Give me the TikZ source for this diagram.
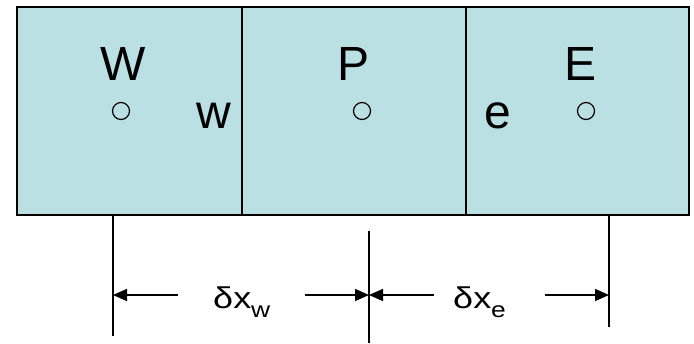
\documentclass[tikz,border=0pt]{standalone}
\usepackage{fontspec}
\usepackage{graphicx}
\setmainfont{Liberation Sans}
\usetikzlibrary{arrows.meta}
\definecolor{cellfill}{HTML}{BBE0E3}
\tikzset{
  cell/.style={draw=black, line width=1.7pt, fill=cellfill, rectangle, inner sep=0pt, minimum height=208pt},
  node/.style={circle, draw=black, line width=1.2pt, minimum size=17pt, inner sep=0pt},
  biglabel/.style={inner sep=0pt, anchor=base, font=\fontsize{48}{48}\selectfont},
  dimline/.style={line width=1.6pt},
  dimarrow/.style={line width=1.6pt, -{Triangle[length=14pt,width=12pt]}},
  dimlabel/.style={inner sep=0pt, anchor=base west, font=\fontsize{30}{30}\selectfont}
}
\begin{document}
\begin{tikzpicture}[x=1pt,y=-1pt]
\useasboundingbox (0,0) rectangle (694,343);
% cells
\node[cell, minimum width=225pt] (cw) at (129.5,111) {};
\node[cell, minimum width=224pt] (cp) at (354,111) {};
\node[cell, minimum width=223pt] (ce) at (577.5,111) {};
% labels
\node[biglabel] (lW) at (123,80) {W};
\node[biglabel] (lP) at (354,80) {P};
\node[biglabel] (lE) at (581,80) {E};
\node[biglabel] (lw) at (214,128) {w};
\node[biglabel] (le) at (498,128) {e};
% node circles
\node[node] (nW) at (121,111) {};
\node[node] (nP) at (362,111) {};
\node[node] (nE) at (586,111) {};
% extension lines
\coordinate (wt) at (113,215);
\coordinate (wb) at (113,336);
\coordinate (pt) at (369,231);
\coordinate (pb) at (369,343);
\coordinate (et) at (609,215);
\coordinate (eb) at (609,327);
\draw[dimline] (wt) -- (wb);
\draw[dimline] (pt) -- (pb);
\draw[dimline] (et) -- (eb);
% dimension arrows
\coordinate (tw) at (113,295);
\coordinate (tp) at (369,295);
\coordinate (te) at (609,295);
\coordinate (a1) at (178,295);
\coordinate (a2) at (305,295);
\coordinate (a3) at (434,295);
\coordinate (a4) at (545,295);
\draw[dimarrow] (a1) -- (tw);
\draw[dimarrow] (a2) -- (tp);
\draw[dimarrow] (a3) -- (tp);
\draw[dimarrow] (a4) -- (te);
\node[dimlabel] (dxw) at (213,308) {\scalebox{1.2}[1]{δx\raisebox{-9pt}{\fontsize{22}{22}\selectfont w}}};
\node[dimlabel] (dxe) at (453,308) {\scalebox{1.2}[1]{δx\raisebox{-9pt}{\fontsize{22}{22}\selectfont e}}};
\end{tikzpicture}
\end{document}
